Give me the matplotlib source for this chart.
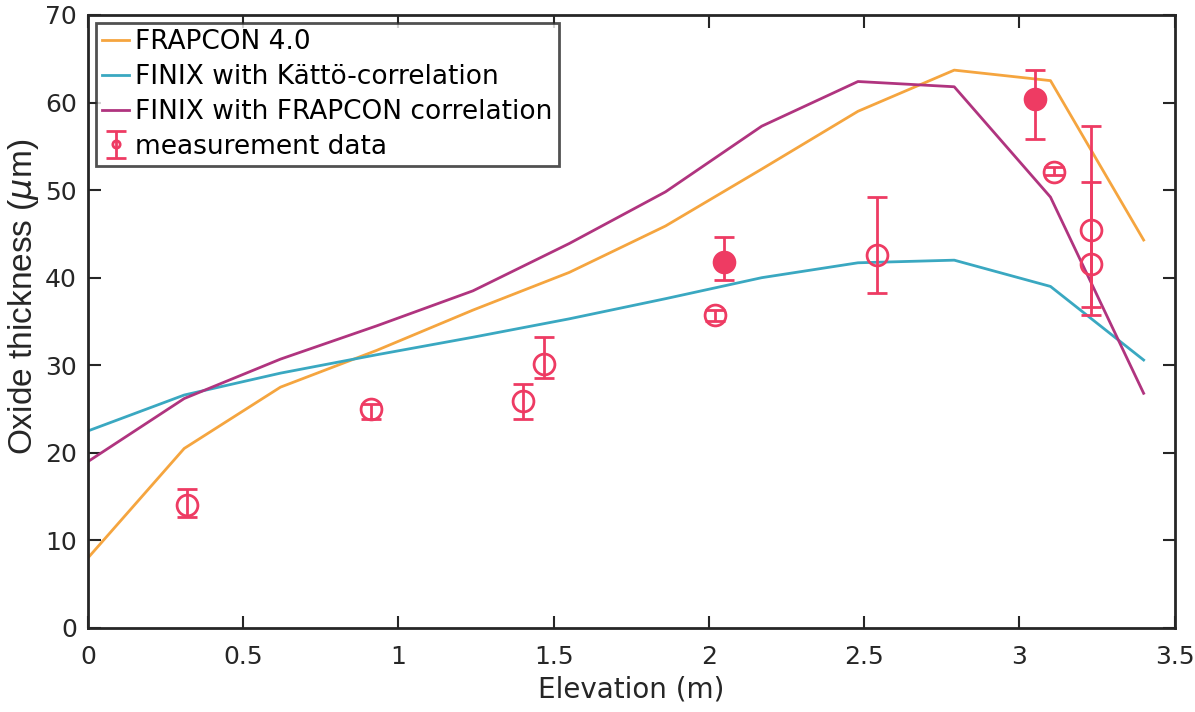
import matplotlib
matplotlib.use("Agg")
import matplotlib.pyplot as plt

plt.rcParams['font.family'] = ['DejaVu Sans']

# model results along the rod
elev = [0, 0.31, 0.62, 0.93, 1.24, 1.55, 1.86, 2.17, 2.48, 2.79, 3.10, 3.40]
frapcon = [8.0, 20.5, 27.5, 31.7, 36.3, 40.6, 45.9, 52.4, 59.0, 63.7, 62.5, 44.3]
finix_katto = [22.5, 26.6, 29.1, 31.2, 33.2, 35.3, 37.6, 40.0, 41.7, 42.0, 39.0, 30.6]
finix_frapcon = [19.0, 26.2, 30.7, 34.5, 38.5, 43.9, 49.8, 57.3, 62.4, 61.8, 49.2, 26.8]

# measurements (open markers)
meas_x = [0.32, 0.91, 1.40, 1.47, 2.02, 2.54, 3.11, 3.23, 3.23]
meas_y = [14.0, 25.0, 25.9, 30.2, 35.7, 42.6, 52.1, 45.4, 41.6]
meas_lo = [12.7, 23.9, 23.9, 28.5, 35.0, 38.2, 51.7, 35.7, 36.6]
meas_hi = [15.9, 25.6, 27.9, 33.2, 36.3, 49.2, 52.6, 57.3, 50.9]

# measurements (filled markers)
fill_x = [2.05, 3.05]
fill_y = [41.8, 60.4]
fill_lo = [39.7, 55.8]
fill_hi = [44.6, 63.7]

c_orange = '#F5A53F'
c_cyan = '#3AA8C1'
c_mag = '#B0347F'
c_red = '#EE3B63'
c_ax = '#262626'

fig = plt.figure(figsize=(11.95, 7.12), dpi=100)
ax = fig.add_axes([0.0736, 0.118, 0.9094, 0.861])

ax.plot(elev, frapcon, color=c_orange, lw=2, label='FRAPCON 4.0')
ax.plot(elev, finix_katto, color=c_cyan, lw=2, label='FINIX with Kättö-correlation')
ax.plot(elev, finix_frapcon, color=c_mag, lw=2, label='FINIX with FRAPCON correlation')

err = [[y - l for y, l in zip(meas_y, meas_lo)], [h - y for y, h in zip(meas_y, meas_hi)]]
ax.errorbar(meas_x, meas_y, yerr=err, fmt='o', color=c_red, mfc='none', mec=c_red,
            ms=15, mew=2, elinewidth=2, capsize=7, capthick=2, label='measurement data')
ferr = [[y - l for y, l in zip(fill_y, fill_lo)], [h - y for y, h in zip(fill_y, fill_hi)]]
ax.errorbar(fill_x, fill_y, yerr=ferr, fmt='o', color=c_red, mfc=c_red, mec=c_red,
            ms=15, mew=2, elinewidth=2, capsize=7, capthick=2)

ax.set_xlim(0, 3.5)
ax.set_ylim(0, 70)
ax.set_xticks([0, 0.5, 1, 1.5, 2, 2.5, 3, 3.5])
ax.set_xticklabels(['0', '0.5', '1', '1.5', '2', '2.5', '3', '3.5'])
ax.set_yticks(range(0, 71, 10))
ax.tick_params(direction='in', length=9, width=1.5, top=True, right=True,
               labelsize=18, colors=c_ax)
ax.tick_params(axis='x', pad=12)
ax.tick_params(axis='y', pad=8)
for s in ax.spines.values():
    s.set_linewidth(2)
    s.set_color(c_ax)

ax.set_xlabel('Elevation (m)', fontsize=20, color=c_ax, labelpad=5)
ax.set_ylabel(r'Oxide thickness ($\mu$m)', fontsize=24, color=c_ax,
              family='Liberation Sans')
ax.yaxis.set_label_coords(-0.043, 0.54)

leg = ax.legend(loc='upper left', fontsize=19, frameon=True, fancybox=False,
                handlelength=1.0, handletextpad=0.25, borderpad=0.25, labelspacing=0.33,
                markerscale=0.35, borderaxespad=0.3)
leg.get_frame().set_edgecolor(c_ax)
leg.get_frame().set_linewidth(2)

fig.savefig('out.png', dpi=100)
